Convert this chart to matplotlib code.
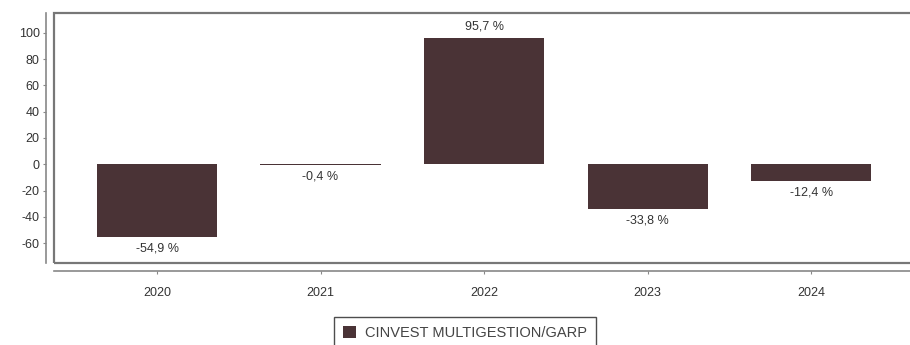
import matplotlib.pyplot as plt
from matplotlib.patches import Rectangle

plt.rcParams['font.family'] = ['Liberation Sans', 'DejaVu Sans']
plt.rcParams['axes.unicode_minus'] = False

# data
years = ["2020", "2021", "2022", "2023", "2024"]
perf = [-54.9, -0.4, 95.7, -33.8, -12.4]
labels = ["-54,9 %", "-0,4 %", "95,7 %", "-33,8 %", "-12,4 %"]
series_name = "CINVEST MULTIGESTION/GARP"
bar_color = "#4a3336"

fig = plt.figure(figsize=(9.1, 3.45), dpi=100)
ax = fig.add_axes([54 / 910, 1 - 263 / 345, 1 - 54 / 910 + 0.01, 250 / 345])

x = range(len(years))
bars = ax.bar(x, perf, width=0.735, color=bar_color, label=series_name)

# value labels above/below bars
for xi, v, txt in zip(x, perf, labels):
    if v >= 0:
        ax.annotate(txt, (xi, v), xytext=(0, 4), textcoords="offset points",
                    ha="center", va="bottom", fontsize=9, color="#333333")
    else:
        ax.annotate(txt, (xi, v), xytext=(0, -4), textcoords="offset points",
                    ha="center", va="top", fontsize=9, color="#333333")

ax.set_xlim(-0.63, 4.66)
ax.set_ylim(-75, 115)
ax.set_yticks(range(-60, 101, 20))
ax.set_xticks(list(x))
ax.set_xticklabels(years)

# box around plot area
ax.add_patch(Rectangle((0, 0), 1, 1, transform=ax.transAxes, fill=False,
                       edgecolor="#777777", linewidth=1.6, clip_on=False))

# detached axis lines
for side in ["top", "right"]:
    ax.spines[side].set_visible(False)
ax.spines["left"].set_position(("outward", 5.8))
ax.spines["bottom"].set_position(("outward", 5.5))
for side in ["left", "bottom"]:
    ax.spines[side].set_color("#888888")
    ax.spines[side].set_linewidth(1.2)
ax.tick_params(axis="both", colors="#888888", labelcolor="#333333",
               labelsize=9, length=2.5, width=0.8)
ax.tick_params(axis="y", pad=2)
ax.tick_params(axis="x", pad=9)

leg = fig.legend(loc="center", bbox_to_anchor=(465 / 910, 1 - 333 / 345),
                 fontsize=10.5, frameon=True, fancybox=False, handlelength=0.9,
                 handleheight=0.9, borderpad=0.6, handletextpad=0.6)
leg.get_frame().set_edgecolor("#222222")
leg.get_frame().set_linewidth(1.0)
for t in leg.get_texts():
    t.set_color("#444444")

fig.savefig("out.png", dpi=100)
